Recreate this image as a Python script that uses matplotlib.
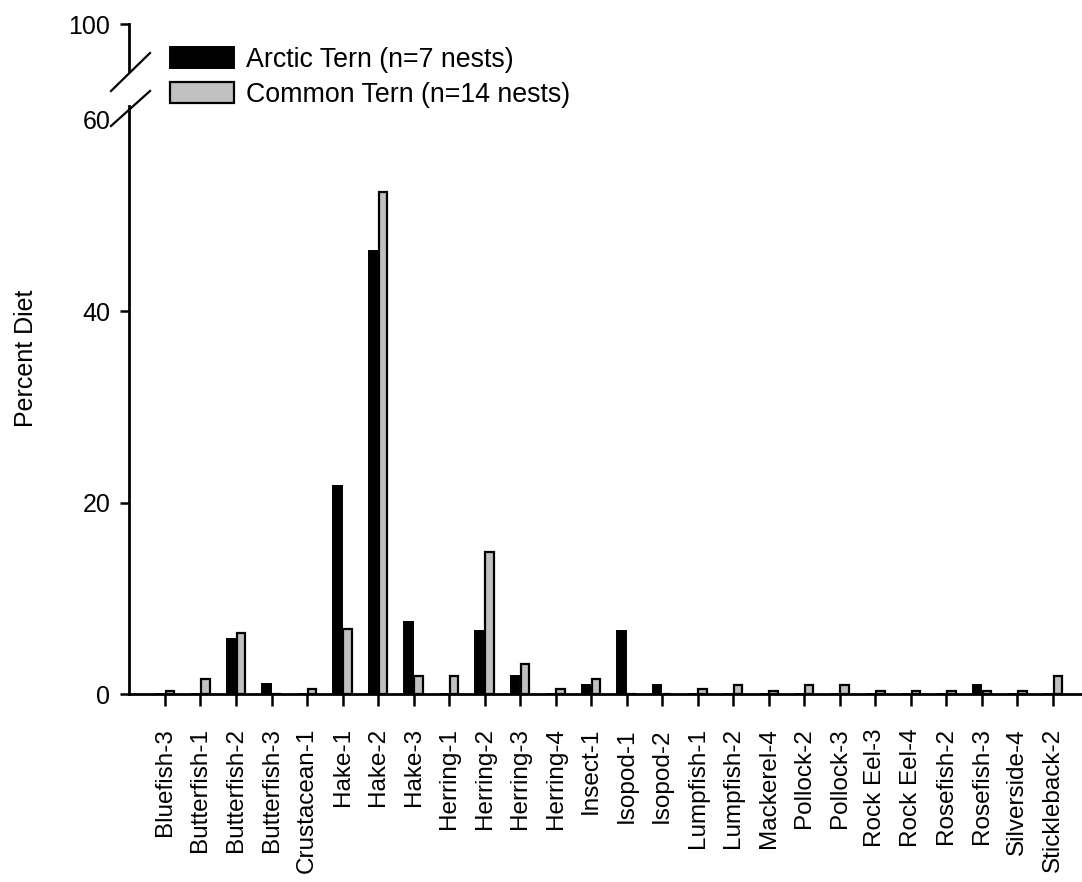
import matplotlib.pyplot as plt
import numpy as np
from matplotlib.lines import Line2D

plt.rcParams['font.family'] = ['Liberation Sans', 'DejaVu Sans']

# prey categories and percent of diet for each tern species
prey = ["Bluefish-3", "Butterfish-1", "Butterfish-2", "Butterfish-3", "Crustacean-1",
        "Hake-1", "Hake-2", "Hake-3", "Herring-1", "Herring-2", "Herring-3", "Herring-4",
        "Insect-1", "Isopod-1", "Isopod-2", "Lumpfish-1", "Lumpfish-2", "Mackerel-4",
        "Pollock-2", "Pollock-3", "Rock Eel-3", "Rock Eel-4", "Rosefish-2", "Rosefish-3",
        "Silverside-4", "Stickleback-2"]
arctic = [0, 0, 5.7, 1.0, 0, 21.7, 46.3, 7.5, 0, 6.6, 1.9, 0, 0.9, 6.6, 0.9,
          0, 0, 0, 0, 0, 0, 0, 0, 0.9, 0, 0]
common = [0.3, 1.6, 6.4, 0, 0.5, 6.8, 52.5, 1.9, 1.9, 14.8, 3.1, 0.5, 1.6, 0, 0,
          0.5, 0.9, 0.3, 0.9, 0.9, 0.3, 0.3, 0.3, 0.3, 0.3, 1.9]

W, H = 1082, 882
fig = plt.figure(figsize=(W / 100, H / 100), dpi=100)
fig.patch.set_facecolor('white')


def fx(px):
    return px / W


def fy(py):
    return 1 - py / H


x_left, y_zero, y_top = 129, 694, 106
ax = fig.add_axes([fx(x_left), fy(y_zero), 1 - fx(x_left), (y_zero - y_top) / H])
ax_top = fig.add_axes([fx(x_left), fy(71), 0.02, (71 - 24) / H])

x = np.arange(len(prey))
bw = 0.24
ax.bar(x - 0.14, arctic, bw, color='black', edgecolor='black', linewidth=1.4,
       label='Arctic Tern (n=7 nests)', zorder=3)
ax.bar(x + 0.14, common, bw, color='#c0c0c0', edgecolor='black', linewidth=1.6,
       label='Common Tern (n=14 nests)', zorder=3)

ax.set_xlim(-1.013, 25.82)
ax.set_ylim(0, 61.46)
ax.set_yticks([0, 20, 40, 60])
ax.set_xticks(x)
ax.set_xticklabels(prey, rotation=90, fontsize=17.5)
ax.tick_params(axis='x', direction='out', length=8.5, width=1.8, pad=16)
ax.tick_params(axis='y', direction='out', length=6.5, width=1.8, pad=7, labelsize=18)
ax.yaxis.get_major_ticks()[-1].tick1line.set_visible(False)
for s in ['top', 'right']:
    ax.spines[s].set_visible(False)
for s in ['left', 'bottom']:
    ax.spines[s].set_linewidth(2.0)

# short upper piece of the broken y axis
ax_top.set_ylim(95, 100)
ax_top.set_yticks([100])
ax_top.set_xticks([])
ax_top.patch.set_visible(False)
for s in ['top', 'right', 'bottom']:
    ax_top.spines[s].set_visible(False)
ax_top.spines['left'].set_linewidth(2.0)
ax_top.tick_params(axis='y', direction='out', length=6.5, width=1.8, pad=7, labelsize=18)

fig.text(fx(26), fy(358), 'Percent Diet', rotation=90, ha='center', va='center', fontsize=18)

fig.legend(loc='upper left', bbox_to_anchor=(fx(170), fy(47)), frameon=False, fontsize=19.3,
           handlelength=2.39, handleheight=0.83, handletextpad=0.45, labelspacing=0.34,
           borderaxespad=0, borderpad=0)

# break marks
for (x0, y0, x1, y1) in [(111, 91, 150, 53), (111, 126, 150, 91)]:
    fig.add_artist(Line2D([fx(x0), fx(x1)], [fy(y0), fy(y1)], color='black', lw=1.6,
                          zorder=10))

fig.savefig('out.png', dpi=100, facecolor='white')
